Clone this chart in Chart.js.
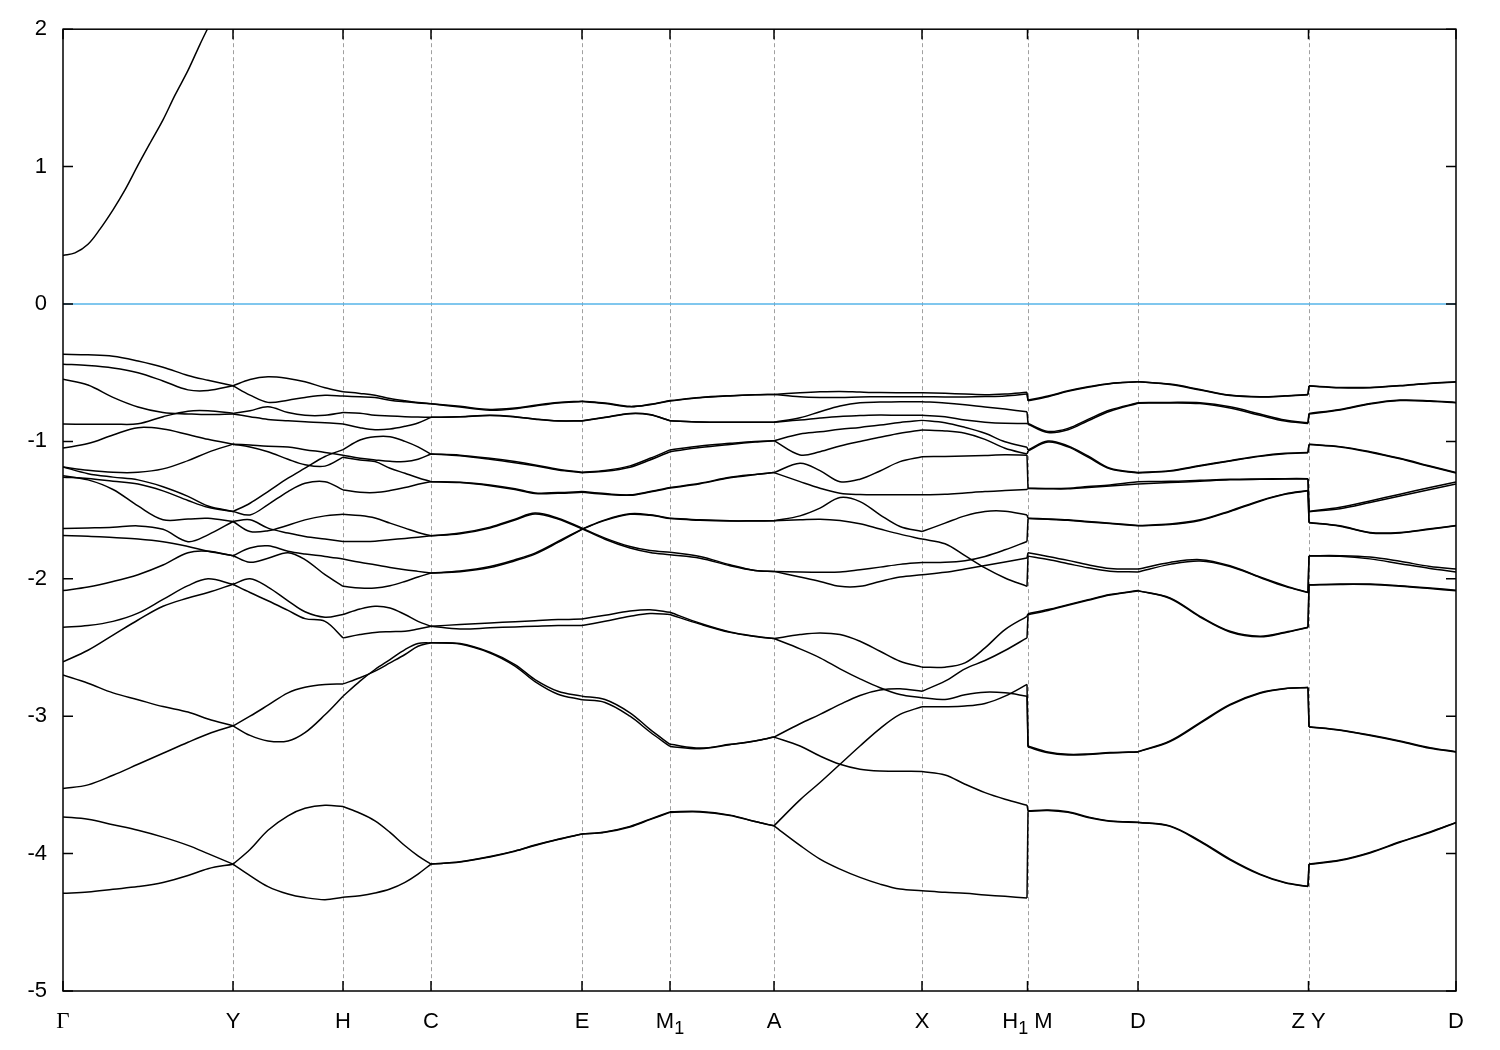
<!DOCTYPE html>
<html><head><meta charset="utf-8">
<script src="https://cdn.jsdelivr.net/npm/chart.js@4.4.0/dist/chart.umd.min.js"></script>
<style>html,body{margin:0;padding:0;background:#fff}#wrap{width:1500px;height:1050px}</style>
</head><body><div id="wrap"><canvas id="c" width="1500" height="1050"></canvas></div>
<script>
// high-symmetry ticks (k-path distance)
const tickK = [0, 1.70, 2.80, 3.68, 5.19, 6.07, 7.11, 8.59, 9.645, 10.75, 12.455, 13.93];
const tickLabels = ['Γ','Y','H','C','E','M₁','A','X','H₁ M','D','Z Y','D'];
const yTicks = [-5,-4,-3,-2,-1,0,1,2];

// conduction band
const kCB = [0,0.12,0.25,0.37,0.50,0.62,0.75,0.87,1.00,1.12,1.25,1.37,1.47];
const eCB = [0.353,0.372,0.435,0.545,0.685,0.83,1.01,1.17,1.34,1.52,1.70,1.89,2.04];

// Γ - Y
const kGY = [0,0.25,0.50,0.75,1.00,1.25,1.45,1.70];
const eGY = [
[-0.366,-0.370,-0.380,-0.415,-0.460,-0.520,-0.555,-0.595],
[-0.438,-0.447,-0.465,-0.500,-0.560,-0.625,-0.630,-0.595],
[-0.547,-0.590,-0.680,-0.750,-0.790,-0.800,-0.805,-0.800],
[-0.874,-0.875,-0.875,-0.872,-0.820,-0.780,-0.777,-0.796],
[-1.048,-1.016,-0.953,-0.900,-0.910,-0.950,-0.985,-1.020],
[-1.186,-1.210,-1.225,-1.225,-1.200,-1.140,-1.080,-1.020],
[-1.186,-1.235,-1.260,-1.280,-1.330,-1.400,-1.470,-1.510],
[-1.250,-1.280,-1.350,-1.470,-1.570,-1.565,-1.560,-1.583],
[-1.260,-1.270,-1.290,-1.310,-1.360,-1.430,-1.480,-1.510],
[-1.634,-1.630,-1.625,-1.615,-1.640,-1.730,-1.680,-1.583],
[-1.685,-1.690,-1.700,-1.710,-1.730,-1.765,-1.800,-1.832],
[-2.086,-2.060,-2.020,-1.970,-1.900,-1.810,-1.800,-1.832],
[-2.353,-2.340,-2.310,-2.250,-2.150,-2.050,-2.000,-2.040],
[-2.604,-2.520,-2.410,-2.300,-2.200,-2.140,-2.100,-2.040],
[-2.700,-2.760,-2.830,-2.880,-2.930,-2.970,-3.020,-3.070],
[-3.527,-3.500,-3.430,-3.350,-3.270,-3.190,-3.130,-3.070],
[-3.733,-3.750,-3.790,-3.830,-3.880,-3.940,-4.000,-4.077],
[-4.289,-4.280,-4.260,-4.240,-4.210,-4.160,-4.110,-4.077]];

// Y - H
const kYH = [1.70,1.87,2.05,2.25,2.42,2.62,2.80];
const eYH = [
[-0.595,-0.549,-0.530,-0.542,-0.566,-0.610,-0.639],
[-0.595,-0.663,-0.716,-0.700,-0.680,-0.665,-0.670],
[-0.796,-0.777,-0.748,-0.790,-0.810,-0.810,-0.790],
[-0.800,-0.820,-0.840,-0.850,-0.857,-0.864,-0.874],
[-1.020,-1.027,-1.035,-1.040,-1.060,-1.080,-1.100],
[-1.020,-1.040,-1.075,-1.130,-1.170,-1.180,-1.115],
[-1.510,-1.450,-1.365,-1.268,-1.195,-1.110,-1.060],
[-1.510,-1.535,-1.460,-1.365,-1.305,-1.293,-1.353],
[-1.583,-1.656,-1.650,-1.610,-1.571,-1.542,-1.530],
[-1.583,-1.571,-1.631,-1.667,-1.692,-1.711,-1.728],
[-1.832,-1.776,-1.760,-1.800,-1.820,-1.837,-1.856],
[-1.832,-1.880,-1.850,-1.810,-1.860,-1.970,-2.055],
[-2.040,-2.000,-2.060,-2.160,-2.240,-2.280,-2.260],
[-2.040,-2.100,-2.160,-2.230,-2.290,-2.310,-2.430],
[-3.070,-3.000,-2.920,-2.830,-2.790,-2.770,-2.765],
[-3.070,-3.140,-3.180,-3.180,-3.120,-2.990,-2.855],
[-4.077,-3.970,-3.830,-3.725,-3.670,-3.648,-3.657],
[-4.077,-4.160,-4.240,-4.294,-4.320,-4.335,-4.318]];

// H - C
const kHC = [2.80,2.97,3.12,3.27,3.42,3.55,3.68];
const eHC = [
[-0.639,-0.651,-0.664,-0.688,-0.705,-0.717,-0.726],
[-0.670,-0.675,-0.680,-0.700,-0.712,-0.720,-0.726],
[-0.790,-0.795,-0.810,-0.815,-0.820,-0.823,-0.825],
[-0.874,-0.900,-0.915,-0.910,-0.890,-0.866,-0.825],
[-1.100,-1.123,-1.135,-1.145,-1.147,-1.130,-1.092],
[-1.115,-1.135,-1.147,-1.195,-1.232,-1.264,-1.293],
[-1.060,-0.990,-0.966,-0.966,-1.000,-1.040,-1.092],
[-1.353,-1.370,-1.372,-1.358,-1.336,-1.312,-1.293],
[-1.530,-1.540,-1.558,-1.595,-1.631,-1.663,-1.687],
[-1.728,-1.728,-1.726,-1.716,-1.706,-1.697,-1.687],
[-1.856,-1.880,-1.898,-1.917,-1.934,-1.946,-1.958],
[-2.055,-2.067,-2.067,-2.050,-2.019,-1.987,-1.958],
[-2.260,-2.220,-2.200,-2.212,-2.260,-2.310,-2.345],
[-2.430,-2.406,-2.390,-2.385,-2.382,-2.365,-2.345],
[-2.765,-2.720,-2.672,-2.612,-2.551,-2.491,-2.466],
[-2.855,-2.745,-2.660,-2.588,-2.515,-2.471,-2.466],
[-3.657,-3.706,-3.762,-3.846,-3.943,-4.016,-4.076],
[-4.318,-4.306,-4.287,-4.258,-4.209,-4.149,-4.076]];

// C - E
const kCE = [3.68,3.97,4.27,4.52,4.72,4.95,5.19];
const eCE = [
[-0.726,-0.745,-0.767,-0.757,-0.737,-0.717,-0.707],
[-0.726,-0.750,-0.773,-0.763,-0.742,-0.720,-0.710],
[-0.825,-0.820,-0.810,-0.820,-0.837,-0.850,-0.850],
[-0.825,-0.821,-0.812,-0.822,-0.838,-0.851,-0.851],
[-1.092,-1.100,-1.123,-1.147,-1.171,-1.203,-1.225],
[-1.092,-1.105,-1.130,-1.155,-1.178,-1.208,-1.228],
[-1.293,-1.297,-1.317,-1.344,-1.375,-1.372,-1.365],
[-1.293,-1.300,-1.322,-1.350,-1.380,-1.378,-1.370],
[-1.687,-1.667,-1.624,-1.566,-1.522,-1.559,-1.631],
[-1.687,-1.672,-1.630,-1.572,-1.528,-1.565,-1.636],
[-1.958,-1.943,-1.910,-1.861,-1.813,-1.728,-1.638],
[-1.958,-1.948,-1.918,-1.868,-1.820,-1.735,-1.640],
[-2.345,-2.333,-2.321,-2.312,-2.305,-2.297,-2.292],
[-2.345,-2.365,-2.357,-2.350,-2.345,-2.340,-2.340],
[-2.466,-2.471,-2.534,-2.624,-2.733,-2.818,-2.854],
[-2.466,-2.475,-2.540,-2.635,-2.748,-2.840,-2.880],
[-4.076,-4.060,-4.021,-3.980,-3.938,-3.895,-3.858],
[-4.076,-4.062,-4.024,-3.983,-3.941,-3.898,-3.858]];

// E - M1
const kEM = [5.19,5.42,5.67,5.87,6.07];
const eEM = [
[-0.707,-0.720,-0.745,-0.730,-0.703],
[-0.710,-0.724,-0.748,-0.733,-0.706],
[-0.850,-0.825,-0.797,-0.805,-0.850],
[-0.851,-0.826,-0.798,-0.806,-0.850],
[-1.225,-1.212,-1.178,-1.123,-1.062],
[-1.228,-1.218,-1.188,-1.135,-1.075],
[-1.365,-1.380,-1.389,-1.365,-1.336],
[-1.370,-1.384,-1.392,-1.368,-1.340],
[-1.631,-1.704,-1.765,-1.794,-1.806],
[-1.636,-1.712,-1.776,-1.808,-1.825],
[-1.638,-1.571,-1.527,-1.534,-1.559],
[-1.640,-1.575,-1.531,-1.538,-1.562],
[-2.292,-2.265,-2.235,-2.225,-2.244],
[-2.340,-2.309,-2.273,-2.253,-2.260],
[-2.854,-2.878,-2.975,-3.096,-3.205],
[-2.880,-2.900,-3.000,-3.115,-3.220],
[-3.858,-3.842,-3.802,-3.749,-3.696],
[-3.858,-3.845,-3.806,-3.753,-3.700]];

// M1 - A
const kMA = [6.07,6.37,6.67,6.92,7.11];
const eMA = [
[-0.703,-0.680,-0.667,-0.660,-0.658],
[-0.706,-0.683,-0.669,-0.661,-0.658],
[-0.850,-0.858,-0.860,-0.860,-0.860],
[-0.850,-0.859,-0.861,-0.861,-0.860],
[-1.062,-1.033,-1.014,-1.000,-0.995],
[-1.075,-1.045,-1.022,-1.005,-0.995],
[-1.336,-1.304,-1.261,-1.240,-1.227],
[-1.340,-1.308,-1.265,-1.242,-1.227],
[-1.806,-1.837,-1.898,-1.939,-1.946],
[-1.825,-1.850,-1.905,-1.940,-1.946],
[-1.559,-1.571,-1.578,-1.578,-1.578],
[-1.562,-1.574,-1.580,-1.579,-1.578],
[-2.244,-2.324,-2.387,-2.418,-2.435],
[-2.260,-2.330,-2.390,-2.420,-2.435],
[-3.205,-3.232,-3.205,-3.180,-3.152],
[-3.220,-3.236,-3.207,-3.180,-3.152],
[-3.696,-3.694,-3.720,-3.766,-3.798],
[-3.700,-3.697,-3.722,-3.767,-3.798]];

// A - X
const kAX = [7.11,7.37,7.57,7.77,7.97,8.17,8.37,8.59];
const eAX = [
[-0.658,-0.646,-0.639,-0.636,-0.641,-0.645,-0.646,-0.646],
[-0.658,-0.675,-0.680,-0.680,-0.677,-0.675,-0.675,-0.675],
[-0.860,-0.828,-0.784,-0.743,-0.719,-0.714,-0.711,-0.711],
[-0.860,-0.845,-0.830,-0.818,-0.812,-0.808,-0.810,-0.810],
[-0.995,-0.946,-0.930,-0.912,-0.898,-0.881,-0.862,-0.847],
[-0.995,-1.099,-1.075,-1.033,-1.000,-0.970,-0.941,-0.917],
[-1.227,-1.159,-1.213,-1.293,-1.275,-1.215,-1.147,-1.111],
[-1.227,-1.293,-1.341,-1.377,-1.387,-1.389,-1.389,-1.389],
[-1.578,-1.542,-1.486,-1.409,-1.438,-1.534,-1.619,-1.656],
[-1.578,-1.571,-1.566,-1.576,-1.600,-1.638,-1.675,-1.711],
[-1.946,-1.951,-1.953,-1.951,-1.934,-1.915,-1.895,-1.881],
[-1.946,-1.987,-2.019,-2.055,-2.055,-2.019,-1.987,-1.970],
[-2.435,-2.406,-2.394,-2.406,-2.455,-2.527,-2.600,-2.643],
[-2.435,-2.510,-2.575,-2.655,-2.728,-2.793,-2.842,-2.866],
[-3.152,-3.055,-2.987,-2.914,-2.849,-2.810,-2.800,-2.818],
[-3.152,-3.217,-3.290,-3.350,-3.386,-3.399,-3.400,-3.403],
[-3.798,-3.609,-3.483,-3.350,-3.217,-3.090,-2.987,-2.931],
[-3.798,-3.940,-4.040,-4.113,-4.173,-4.222,-4.258,-4.270]];

// X - H1
const kXH = [8.59,8.82,9.02,9.22,9.42,9.64];
const eXH = [
[-0.646,-0.650,-0.655,-0.660,-0.655,-0.643],
[-0.675,-0.676,-0.676,-0.674,-0.670,-0.655],
[-0.711,-0.720,-0.733,-0.750,-0.765,-0.784],
[-0.810,-0.820,-0.845,-0.860,-0.868,-0.869],
[-0.847,-0.864,-0.898,-0.941,-1.002,-1.043],
[-0.917,-0.924,-0.941,-0.985,-1.050,-1.092],
[-1.111,-1.109,-1.106,-1.102,-1.098,-1.100],
[-1.389,-1.385,-1.375,-1.365,-1.358,-1.350],
[-1.656,-1.595,-1.542,-1.510,-1.508,-1.535],
[-1.711,-1.745,-1.832,-1.921,-1.994,-2.055],
[-1.881,-1.880,-1.868,-1.837,-1.789,-1.728],
[-1.970,-1.953,-1.929,-1.903,-1.878,-1.849],
[-2.643,-2.643,-2.612,-2.503,-2.370,-2.273],
[-2.818,-2.745,-2.655,-2.595,-2.522,-2.430],
[-2.866,-2.878,-2.844,-2.825,-2.830,-2.854],
[-2.931,-2.931,-2.926,-2.907,-2.854,-2.769],
[-3.403,-3.428,-3.495,-3.556,-3.604,-3.648],
[-4.270,-4.282,-4.289,-4.301,-4.311,-4.323]];

// M - D
const kMD = [9.65,9.85,10.05,10.25,10.47,10.75];
const eMD = [
[-0.699,-0.670,-0.632,-0.603,-0.578,-0.566],
[-0.705,-0.675,-0.636,-0.606,-0.580,-0.566],
[-0.869,-0.927,-0.905,-0.840,-0.772,-0.719],
[-0.875,-0.935,-0.915,-0.850,-0.780,-0.722],
[-1.062,-0.997,-1.033,-1.106,-1.196,-1.227],
[-1.070,-1.005,-1.040,-1.115,-1.200,-1.230],
[-1.341,-1.343,-1.341,-1.329,-1.317,-1.293],
[-1.343,-1.345,-1.345,-1.335,-1.325,-1.310],
[-1.559,-1.564,-1.571,-1.583,-1.595,-1.612],
[-1.562,-1.567,-1.574,-1.586,-1.598,-1.614],
[-1.810,-1.837,-1.866,-1.898,-1.925,-1.929],
[-1.835,-1.860,-1.890,-1.920,-1.945,-1.950],
[-2.254,-2.224,-2.188,-2.152,-2.115,-2.086],
[-2.262,-2.230,-2.193,-2.156,-2.118,-2.088],
[-3.217,-3.260,-3.277,-3.275,-3.265,-3.258],
[-3.225,-3.266,-3.282,-3.279,-3.268,-3.260],
[-3.689,-3.682,-3.696,-3.733,-3.762,-3.771],
[-3.692,-3.686,-3.700,-3.737,-3.765,-3.773]];

// D - Z
const kDZ = [10.75,11.07,11.37,11.67,11.97,12.22,12.45];
const eDZ = [
[-0.566,-0.583,-0.622,-0.663,-0.675,-0.668,-0.658],
[-0.566,-0.586,-0.626,-0.666,-0.677,-0.670,-0.660],
[-0.719,-0.716,-0.719,-0.748,-0.801,-0.845,-0.864],
[-0.722,-0.720,-0.725,-0.757,-0.810,-0.852,-0.870],
[-1.227,-1.213,-1.176,-1.140,-1.106,-1.087,-1.080],
[-1.230,-1.216,-1.179,-1.143,-1.109,-1.089,-1.082],
[-1.293,-1.290,-1.283,-1.276,-1.273,-1.271,-1.271],
[-1.310,-1.300,-1.290,-1.280,-1.276,-1.274,-1.273],
[-1.612,-1.602,-1.571,-1.506,-1.431,-1.382,-1.358],
[-1.614,-1.605,-1.575,-1.510,-1.435,-1.385,-1.360],
[-1.929,-1.881,-1.861,-1.905,-1.987,-2.050,-2.099],
[-1.950,-1.895,-1.870,-1.910,-1.990,-2.055,-2.100],
[-2.086,-2.139,-2.273,-2.382,-2.418,-2.389,-2.353],
[-2.088,-2.143,-2.278,-2.387,-2.422,-2.392,-2.355],
[-3.258,-3.180,-3.047,-2.914,-2.829,-2.798,-2.791],
[-3.260,-3.184,-3.052,-2.919,-2.833,-2.800,-2.792],
[-3.771,-3.798,-3.907,-4.040,-4.149,-4.210,-4.238],
[-3.773,-3.802,-3.912,-4.045,-4.153,-4.213,-4.240]];

// Y - D
const kYD = [12.46,12.77,13.07,13.37,13.67,13.93];
const eYD = [
[-0.595,-0.607,-0.607,-0.593,-0.576,-0.566],
[-0.597,-0.609,-0.609,-0.595,-0.578,-0.568],
[-0.796,-0.767,-0.724,-0.699,-0.704,-0.716],
[-0.800,-0.772,-0.728,-0.703,-0.708,-0.719],
[-1.021,-1.038,-1.075,-1.123,-1.179,-1.227],
[-1.023,-1.041,-1.079,-1.127,-1.183,-1.230],
[-1.510,-1.479,-1.433,-1.384,-1.336,-1.295],
[-1.512,-1.490,-1.445,-1.397,-1.350,-1.310],
[-1.590,-1.614,-1.663,-1.663,-1.636,-1.612],
[-1.592,-1.617,-1.666,-1.666,-1.639,-1.614],
[-1.832,-1.832,-1.842,-1.873,-1.910,-1.929],
[-1.834,-1.836,-1.855,-1.890,-1.925,-1.950],
[-2.043,-2.038,-2.038,-2.050,-2.067,-2.083],
[-2.045,-2.041,-2.042,-2.054,-2.071,-2.087],
[-3.077,-3.100,-3.137,-3.180,-3.229,-3.258],
[-3.079,-3.103,-3.141,-3.184,-3.233,-3.260],
[-4.076,-4.047,-3.991,-3.914,-3.842,-3.773],
[-4.078,-4.050,-3.995,-3.918,-3.846,-3.775]];

const segments = [[kGY,eGY],[kYH,eYH],[kHC,eHC],[kCE,eCE],[kEM,eEM],[kMA,eMA],[kAX,eAX],[kXH,eXH],[kMD,eMD],[kDZ,eDZ],[kYD,eYD]];

const lineStyle = {borderColor:'#000', borderWidth:1.5, pointRadius:0, fill:false, tension:0.35};
const datasets = [];
segments.forEach(([k, rows]) => rows.forEach(r => datasets.push(Object.assign({}, lineStyle, {data: k.map((x,i)=>({x:x, y:r[i]}))}))));
// discontinuities: connect bands by energy order
function jump(a, b){
  const [kA, rA] = a, [kB, rB] = b;
  const eA = rA.map(r=>r[r.length-1]).sort((p,q)=>q-p);
  const eB = rB.map(r=>r[0]).sort((p,q)=>q-p);
  eA.forEach((v,i)=>datasets.push(Object.assign({}, lineStyle, {tension:0, data:[{x:kA[kA.length-1], y:v},{x:kB[0], y:eB[i]}]})));
}
jump([kXH,eXH],[kMD,eMD]);
jump([kDZ,eDZ],[kYD,eYD]);
datasets.push(Object.assign({}, lineStyle, {data: kCB.map((x,i)=>({x:x, y:eCB[i]}))}));
datasets.push({borderColor:'#56B4E9', borderWidth:1.5, pointRadius:0, fill:false, tension:0, data:[{x:tickK[0], y:0},{x:tickK[tickK.length-1], y:0}]});

const sans = "'Liberation Sans', Arial, sans-serif";
const serif = "'Liberation Serif', 'Times New Roman', serif";

const framePlugin = {
  id: 'frame',
  beforeDatasetsDraw(chart){
    const {ctx, chartArea:a, scales:{x}} = chart;
    ctx.save(); ctx.strokeStyle = '#a0a0a0'; ctx.lineWidth = 1; ctx.setLineDash([4,3]);
    tickK.forEach(v => {
      const px = Math.round(x.getPixelForValue(v)) + 0.5;
      if (px <= a.left + 2 || px >= a.right - 2) return;
      ctx.beginPath(); ctx.moveTo(px, a.top); ctx.lineTo(px, a.bottom); ctx.stroke();
    });
    ctx.restore();
  },
  afterDatasetsDraw(chart){
    const {ctx, chartArea:a, scales:{x, y}} = chart;
    ctx.save(); ctx.strokeStyle = '#000'; ctx.lineWidth = 1.5; ctx.setLineDash([]);
    ctx.strokeRect(a.left, a.top, a.right - a.left, a.bottom - a.top);
    ctx.beginPath();
    yTicks.forEach(v => {
      const py = y.getPixelForValue(v);
      ctx.moveTo(a.left, py); ctx.lineTo(a.left + 10, py);
      ctx.moveTo(a.right, py); ctx.lineTo(a.right - 10, py);
    });
    tickK.forEach(v => {
      const px = x.getPixelForValue(v);
      ctx.moveTo(px, a.bottom); ctx.lineTo(px, a.bottom - 10);
      ctx.moveTo(px, a.top); ctx.lineTo(px, a.top + 10);
    });
    ctx.stroke();
    // x tick labels with subscripts (e.g. M₁ -> M + lowered 1)
    ctx.fillStyle = '#000'; ctx.textBaseline = 'alphabetic'; ctx.textAlign = 'left';
    const base = a.bottom + 37;
    tickK.forEach((v, i) => {
      const label = tickLabels[i];
      const parts = [];
      for (const ch of label) {
        if (ch === '₁') parts.push({t: '1', sub: true});
        else parts.push({t: ch, sub: false});
      }
      const fontFor = p => p.sub ? `18px ${sans}` : (p.t === 'Γ' ? `23px ${serif}` : `22px ${sans}`);
      let w = 0;
      parts.forEach(p => { ctx.font = fontFor(p); p.w = ctx.measureText(p.t).width; w += p.w; });
      let cx = x.getPixelForValue(v) - w / 2;
      parts.forEach(p => {
        ctx.font = fontFor(p);
        ctx.fillText(p.t, cx, p.sub ? base + 6 : base);
        cx += p.w;
      });
    });
    ctx.restore();
  }
};

new Chart(document.getElementById('c'), {
  type: 'line',
  data: {datasets},
  options: {
    responsive: false, animation: false, events: [],
    layout: {padding: {top: 28, right: 44, left: 0, bottom: 0}},
    plugins: {legend: {display: false}, tooltip: {enabled: false}},
    scales: {
      x: {
        type: 'linear', min: tickK[0], max: tickK[tickK.length-1],
        afterBuildTicks: s => { s.ticks = tickK.map(v => ({value: v})); },
        afterFit: s => { s.height = 59; },
        ticks: {display: false, callback: (v, i) => tickLabels[i]},
        grid: {display: false, drawTicks: false},
        border: {display: false}
      },
      y: {
        type: 'linear', min: -5, max: 2,
        afterBuildTicks: s => { s.ticks = yTicks.map(v => ({value: v})); },
        afterFit: s => { s.width = 63; },
        ticks: {color: '#000', padding: 16, font: {family: sans, size: 22}, callback: v => String(v)},
        grid: {display: false, drawTicks: false},
        border: {display: false}
      }
    }
  },
  plugins: [framePlugin]
});
</script>
</body></html>
